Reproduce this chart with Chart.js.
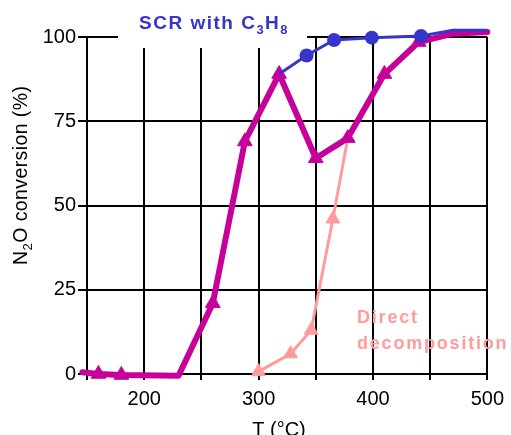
<!DOCTYPE html>
<html>
<head>
<meta charset="utf-8">
<script src="https://cdn.jsdelivr.net/npm/chart.js@4/dist/chart.umd.min.js"></script>
<style>
  html, body { margin: 0; padding: 0; background: #fff; }
  #wrap { width: 511px; height: 435px; position: relative; }
</style>
</head>
<body>
<div id="wrap"><canvas id="conv"></canvas></div>
<script>
// temperatures (°C) and N2O conversion (%)
const scrT = [146, 160, 180, 230, 260, 288, 318, 350, 378, 410, 440, 470, 500];
const scrConv = [0.5, 0, -0.3, -0.5, 21, 69, 89, 64, 70, 89, 98.5, 101, 101.5];
const scrMarks = [0, 8.5, 8.5, 0, 8.5, 8.5, 8.5, 8.5, 8.5, 8.5, 8.5, 0, 0];

const c3h8T = [318, 342, 366, 399, 442, 470, 500];
const c3h8Conv = [89, 94.5, 99.1, 99.8, 100.3, 102, 102];
const c3h8Marks = [0, 7, 7, 7, 7, 0, 0];

const directT = [300, 328, 346, 365, 378];
const directConv = [0.7, 6, 13, 46, 70];
const directMarks = [8, 8, 8, 8, 0];

const xTicks = [200, 300, 400, 500];
const yTicks = [0, 25, 50, 75, 100];

const FONT = '"Liberation Sans", Arial, sans-serif';

function pts(xs, ys) {
  return xs.map((x, i) => ({ x: x, y: ys[i] }));
}

// text with subscripts, drawn piece by piece
function drawParts(ctx, parts, x, y, size, weight, spacing) {
  parts.forEach(p => {
    const s = p.sub ? size * 0.68 : size;
    ctx.font = `${weight} ${s}px ${FONT}`;
    ctx.letterSpacing = spacing + 'px';
    ctx.fillText(p.t, x, y + (p.sub ? size * 0.25 : 0));
    x += ctx.measureText(p.t).width;
  });
}

const labels = {
  id: 'labels',
  beforeDatasetsDraw(chart) {
    const ctx = chart.ctx;
    ctx.save();
    // white box behind the SCR caption
    ctx.fillStyle = '#fff';
    ctx.fillRect(118, 0, 189, 48);
    ctx.restore();
  },
  afterDraw(chart) {
    const ctx = chart.ctx;
    ctx.save();
    ctx.textBaseline = 'alphabetic';
    ctx.textAlign = 'left';

    ctx.fillStyle = '#3535cc';
    drawParts(ctx, [{ t: 'SCR with C' }, { t: '3', sub: true }, { t: 'H' }, { t: '8', sub: true }],
      139, 29, 19, 'bold', 1.5);

    ctx.fillStyle = '#ff9b9b';
    drawParts(ctx, [{ t: 'Direct' }], 357, 323, 18, 'bold', 1.8);
    drawParts(ctx, [{ t: 'decomposition' }], 357, 349, 18, 'bold', 1.8);

    ctx.fillStyle = '#000';
    ctx.letterSpacing = '0px';
    ctx.font = `20px ${FONT}`;
    ctx.textAlign = 'center';
    ctx.fillText('T (°C)', 279, 436);

    // rotated y axis title
    ctx.translate(27, 265);
    ctx.rotate(-Math.PI / 2);
    ctx.textAlign = 'left';
    drawParts(ctx, [{ t: 'N' }, { t: '2', sub: true }, { t: 'O conversion (%)' }], 0, 0, 19.5, 'normal', 0.4);
    ctx.restore();
  }
};

new Chart(document.getElementById('conv'), {
  type: 'line',
  data: {
    datasets: [
      {
        label: 'SCR with C3H8 (high T)',
        data: pts(c3h8T, c3h8Conv),
        borderColor: '#3535cc',
        backgroundColor: '#3535cc',
        borderWidth: 3,
        pointRadius: c3h8Marks,
        pointStyle: 'circle',
        pointBorderWidth: 0,
        order: 0,
        clip: false
      },
      {
        label: 'SCR with C3H8',
        data: pts(scrT, scrConv),
        borderColor: '#c8009a',
        backgroundColor: '#c8009a',
        borderWidth: 6,
        borderJoinStyle: 'round',
        borderCapStyle: 'round',
        pointRadius: scrMarks,
        pointStyle: 'triangle',
        pointBorderWidth: 1,
        order: 1,
        clip: false
      },
      {
        label: 'Direct decomposition',
        data: pts(directT, directConv),
        borderColor: '#ff9b9b',
        backgroundColor: '#ff9b9b',
        borderWidth: 3,
        pointRadius: directMarks,
        pointStyle: 'triangle',
        pointBorderWidth: 1,
        order: 2,
        clip: false
      }
    ]
  },
  options: {
    responsive: true,
    maintainAspectRatio: false,
    animation: false,
    layout: { padding: { top: 37, right: 23, left: 0, bottom: 0 } },
    plugins: { legend: { display: false }, tooltip: { enabled: false } },
    elements: { line: { tension: 0 } },
    scales: {
      x: {
        type: 'linear',
        min: 150,
        max: 500,
        afterFit(s) { s.height = 61; },
        afterBuildTicks(s) {
          s.ticks = [150, 200, 250, 300, 350, 400, 450, 500].map(v => ({ value: v }));
        },
        border: { display: true, color: '#000', width: 2 },
        grid: { color: '#000', lineWidth: 2, tickLength: 6, drawTicks: true },
        ticks: {
          color: '#000',
          font: { family: FONT, size: 20 },
          padding: 7,
          maxRotation: 0,
          autoSkip: false,
          callback: v => xTicks.includes(v) ? String(v) : ''
        }
      },
      y: {
        min: 0,
        max: 100,
        afterFit(s) { s.width = 87; },
        afterBuildTicks(s) {
          s.ticks = yTicks.map(v => ({ value: v }));
        },
        border: { display: true, color: '#000', width: 2 },
        grid: { color: '#000', lineWidth: 2, tickLength: 9, drawTicks: true },
        ticks: {
          color: '#000',
          font: { family: FONT, size: 20 },
          padding: 2,
          callback: v => String(v)
        }
      }
    }
  },
  plugins: [labels]
});
</script>
</body>
</html>
